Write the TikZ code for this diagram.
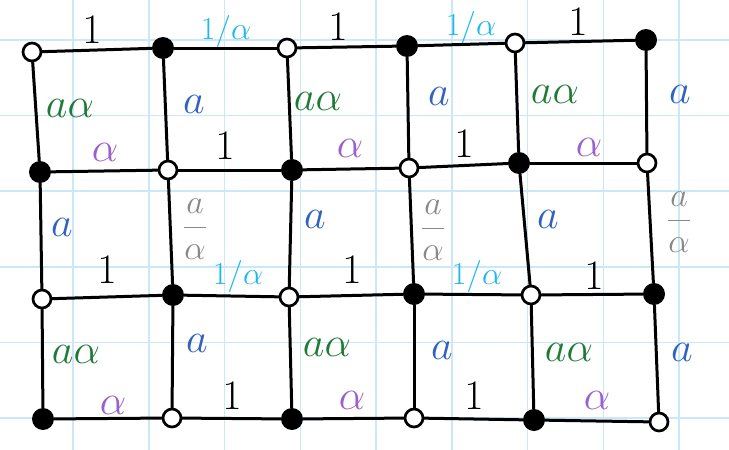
\RequirePackage{fix-cm}
\documentclass[tikz,border=0pt]{standalone}
\usepackage{amsmath}
\begin{document}
\begin{tikzpicture}[x=1pt,y=-1pt,
  gridline/.style={draw=gridblue,line width=1.5pt},
  edge/.style={line width=3pt,line cap=round},
  fv/.style={circle,fill=black,minimum size=22pt,inner sep=0pt},
  ov/.style={circle,draw=black,fill=white,line width=2.7pt,minimum size=18pt,inner sep=0pt},
  lbl/.style={inner sep=0pt,font=\fontsize{42}{42}\selectfont},
  sml/.style={inner sep=0pt,font=\fontsize{32}{32}\selectfont},
  frc/.style={inner sep=0pt,font=\fontsize{34}{34}\selectfont}]
\definecolor{gridblue}{HTML}{CBE7FA}
\definecolor{lcyan}{HTML}{1CB8EE}
\definecolor{lpurple}{HTML}{9B5FCF}
\definecolor{lgreen}{HTML}{1F7A35}
\definecolor{lblue}{HTML}{3262C0}
\definecolor{lgray}{HTML}{888888}
\useasboundingbox (0,0) rectangle (729,450);
\fill[white] (0,0) rectangle (729,450);
% grid
\foreach \gx in {73,148.75,224.5,300.25,376,451.75,527.5,603.25,679} \draw[gridline] (\gx,0) -- (\gx,450);
\foreach \gy in {40,115.6,191.2,266.8,342.4,418} \draw[gridline] (0,\gy) -- (729,\gy);
% vertices
\node[ov] (a1) at (32,52) {};
\node[fv] (a2) at (163,48) {};
\node[ov] (a3) at (287,48) {};
\node[fv] (a4) at (407,46) {};
\node[ov] (a5) at (515,43) {};
\node[fv] (a6) at (646,40) {};
\node[fv] (b1) at (40,172) {};
\node[ov] (b2) at (168,170) {};
\node[fv] (b3) at (292,170) {};
\node[ov] (b4) at (409,168) {};
\node[fv] (b5) at (519,163) {};
\node[ov] (b6) at (647,163) {};
\node[ov] (c1) at (42,299) {};
\node[fv] (c2) at (173,295) {};
\node[ov] (c3) at (289,297) {};
\node[fv] (c4) at (414,294) {};
\node[ov] (c5) at (531,295) {};
\node[fv] (c6) at (654,294) {};
\node[fv] (d1) at (43,419) {};
\node[ov] (d2) at (172,418) {};
\node[fv] (d3) at (292,419) {};
\node[ov] (d4) at (414,418) {};
\node[fv] (d5) at (534,420) {};
\node[ov] (d6) at (659,422) {};
% edges
\foreach \r in {a,b,c,d}{
  \draw[edge] (\r1) -- (\r2);
  \draw[edge] (\r2) -- (\r3);
  \draw[edge] (\r3) -- (\r4);
  \draw[edge] (\r4) -- (\r5);
  \draw[edge] (\r5) -- (\r6);
}
\foreach \c in {1,...,6}{
  \draw[edge] (a\c) -- (b\c);
  \draw[edge] (b\c) -- (c\c);
  \draw[edge] (c\c) -- (d\c);
}
% row 1 horizontal labels
\node[lbl] (h11) at (92,30) {$1$};
\node[sml,text=lcyan] (h12) at (226,31) {$1/\alpha$};
\node[lbl] (h13) at (338,27) {$1$};
\node[sml,text=lcyan] (h14) at (471,27) {$1/\alpha$};
\node[lbl] (h15) at (578,22) {$1$};
% row 1-2 vertical labels
\node[lbl,text=lgreen] (v11) at (70,108) {$a\alpha$};
\node[lbl,text=lblue] (v12) at (194,104) {$a$};
\node[lbl,text=lgreen] (v13) at (318,101) {$a\alpha$};
\node[lbl,text=lblue] (v14) at (439,96) {$a$};
\node[lbl,text=lgreen] (v15) at (555,94) {$a\alpha$};
\node[lbl,text=lblue] (v16) at (680,94) {$a$};
% row 2 horizontal labels
\node[lbl,text=lpurple] (h21) at (105,152) {$\alpha$};
\node[lbl] (h22) at (225,146) {$1$};
\node[lbl,text=lpurple] (h23) at (350,148) {$\alpha$};
\node[lbl] (h24) at (464,144) {$1$};
\node[lbl,text=lpurple] (h25) at (589,147) {$\alpha$};
% row 2-3 vertical labels
\node[lbl,text=lblue] (v21) at (62,227) {$a$};
\node[frc,text=lgray] (v22) at (195,229) {$\dfrac{a}{\alpha}$};
\node[lbl,text=lblue] (v23) at (315,219) {$a$};
\node[frc,text=lgray] (v24) at (433,230) {$\dfrac{a}{\alpha}$};
\node[lbl,text=lblue] (v25) at (548,219) {$a$};
\node[frc,text=lgray] (v26) at (679,222) {$\dfrac{a}{\alpha}$};
% row 3 horizontal labels
\node[lbl] (h31) at (107,270) {$1$};
\node[sml,text=lcyan] (h32) at (238,276) {$1/\alpha$};
\node[lbl] (h33) at (352,270) {$1$};
\node[sml,text=lcyan] (h34) at (477,276) {$1/\alpha$};
\node[lbl] (h35) at (594,276) {$1$};
% row 3-4 vertical labels
\node[lbl,text=lgreen] (v31) at (76,354) {$a\alpha$};
\node[lbl,text=lblue] (v32) at (197,343) {$a$};
\node[lbl,text=lgreen] (v33) at (327,347) {$a\alpha$};
\node[lbl,text=lblue] (v34) at (442,350) {$a$};
\node[lbl,text=lgreen] (v35) at (569,352) {$a\alpha$};
\node[lbl,text=lblue] (v36) at (682,352) {$a$};
% row 4 horizontal labels
\node[lbl,text=lpurple] (h41) at (113,405) {$\alpha$};
\node[lbl] (h42) at (232,396) {$1$};
\node[lbl,text=lpurple] (h43) at (352,400) {$\alpha$};
\node[lbl] (h44) at (474,396) {$1$};
\node[lbl,text=lpurple] (h45) at (597,400) {$\alpha$};
\end{tikzpicture}
\end{document}
